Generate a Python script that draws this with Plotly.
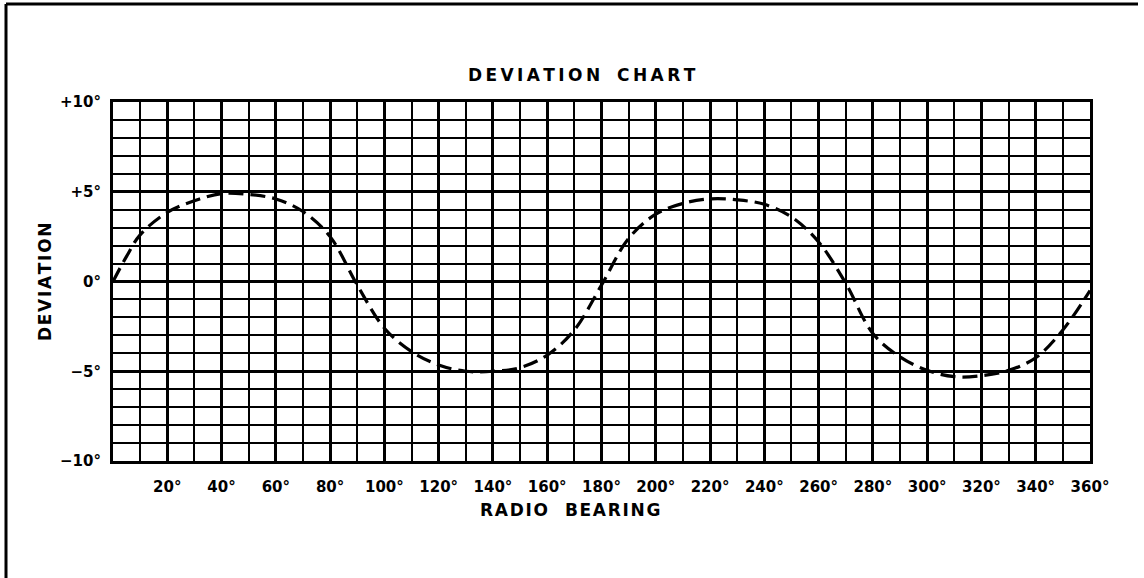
import plotly.graph_objects as go

# Data
bearing = [0, 5, 10, 20, 30, 40, 50, 60, 70, 80, 90, 100, 110, 120, 130, 140, 150,
           160, 170, 180, 190, 200, 210, 220, 230, 240, 250, 260, 270, 280, 290,
           300, 310, 320, 330, 340, 350, 360]
deviation = [0.0, 1.4, 2.6, 3.85, 4.5, 4.9, 4.85, 4.6, 3.9, 2.5, -0.2, -2.6, -3.9,
             -4.65, -5.0, -5.0, -4.8, -4.1, -2.7, -0.2, 2.4, 3.75, 4.35, 4.6, 4.55,
             4.3, 3.6, 2.2, -0.1, -2.9, -4.2, -4.95, -5.3, -5.25, -4.95, -4.25,
             -2.7, -0.5]

x_tick_vals = list(range(20, 361, 20))
x_tick_text = [f"<b>{v}°</b>" for v in x_tick_vals]
y_tick_vals = [-10, -5, 0, 5, 10]
y_tick_text = ["<b>−10°</b>", "<b>−5°</b>", "<b>0°</b>", "<b>+5°</b>", "<b>+10°</b>"]

FONT = "DejaVu Sans"
THIN = "&#8201;"
HAIR = "&#8202;"


def spaced(word, gap):
    return gap.join(list(word))


title_text = "<b>" + spaced("DEVIATION", THIN) + "&#8194;&#8194;" + spaced("CHART", THIN) + "</b>"
xtitle_text = "<b>" + spaced("RADIO", HAIR) + "&#8194;&#8194;" + spaced("BEARING", HAIR) + "</b>"
ytitle_text = "<b>" + spaced("DEVIATION", HAIR) + "</b>"

fig = go.Figure()
fig.add_trace(go.Scatter(
    x=bearing, y=deviation, mode="lines",
    line=dict(color="black", width=3.2, dash="15px,7px", shape="spline", smoothing=1.0),
    hoverinfo="skip", showlegend=False,
))

fig.update_layout(
    width=1144, height=578,
    margin=dict(l=113, r=54, t=102, b=117),
    paper_bgcolor="white", plot_bgcolor="white",
    font=dict(family=FONT, color="black", size=15),
    showlegend=False,
    xaxis=dict(
        range=[0, 360], tickmode="array", tickvals=x_tick_vals, ticktext=x_tick_text,
        showgrid=True, gridcolor="black", gridwidth=3,
        minor=dict(tickmode="linear", tick0=0, dtick=10, showgrid=True,
                   gridcolor="black", gridwidth=2, ticks=""),
        showline=True, linecolor="black", linewidth=3, mirror=True,
        ticks="", ticklabelstandoff=10, tickfont=dict(size=15, family=FONT),
        zeroline=False, fixedrange=True,
    ),
    yaxis=dict(
        range=[-10, 10], tickmode="array", tickvals=y_tick_vals, ticktext=y_tick_text,
        showgrid=True, gridcolor="black", gridwidth=3,
        minor=dict(tickmode="linear", tick0=0, dtick=1, showgrid=True,
                   gridcolor="black", gridwidth=2, ticks=""),
        showline=True, linecolor="black", linewidth=3, mirror=True,
        ticks="", ticklabelstandoff=6, tickfont=dict(size=15, family=FONT),
        zeroline=False, fixedrange=True,
    ),
    annotations=[
        dict(text=title_text,
             xref="paper", yref="paper", x=(582 - 113) / 977, y=(461 - 75) / 359,
             showarrow=False, font=dict(size=17, family=FONT), xanchor="center", yanchor="middle"),
        dict(text=xtitle_text, xref="paper", yref="paper",
             x=(570 - 113) / 977, y=(461 - 510) / 359, showarrow=False,
             font=dict(size=17, family=FONT), xanchor="center", yanchor="middle"),
        dict(text=ytitle_text, xref="paper", yref="paper",
             x=(45 - 113) / 977, y=(461 - 282) / 359, showarrow=False, textangle=-90,
             font=dict(size=17, family=FONT), xanchor="center", yanchor="middle"),
    ],
    shapes=[
        dict(type="line", xref="paper", yref="paper",
             x0=(6 - 113) / 977, x1=(1138 - 113) / 977,
             y0=(461 - 4) / 359, y1=(461 - 4) / 359, line=dict(color="black", width=3)),
        dict(type="line", xref="paper", yref="paper",
             x0=(6 - 113) / 977, x1=(6 - 113) / 977,
             y0=(461 - 4) / 359, y1=(461 - 578) / 359, line=dict(color="black", width=3)),
    ],
)

fig.write_html("out.html", config={"displayModeBar": False},
               post_script="document.body.style.margin='0';document.body.style.overflow='hidden';"
                           "document.documentElement.style.overflow='hidden';")
